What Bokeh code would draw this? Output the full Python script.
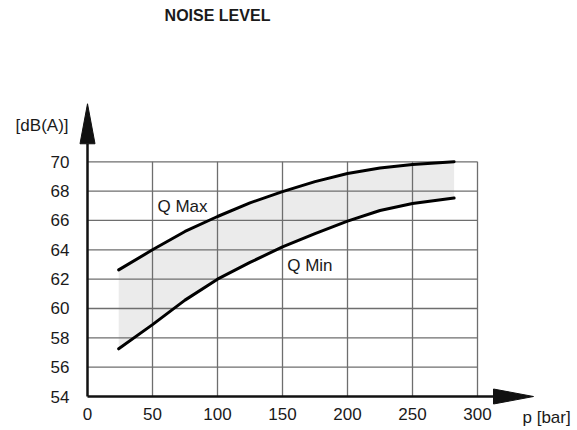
from bokeh.plotting import figure
from bokeh.models import LinearAxis, FixedTicker, Label, Range1d
from bokeh.core.properties import value
from bokeh.embed import file_html
from bokeh.resources import INLINE

# ---- data ----
pressure = [24, 50, 75, 100, 125, 150, 175, 200, 225, 250, 282]
q_max = [62.63, 64.0, 65.25, 66.27, 67.2, 67.97, 68.65, 69.2, 69.58, 69.82, 70.0]
q_min = [57.25, 58.9, 60.57, 62.0, 63.14, 64.2, 65.1, 65.95, 66.68, 67.16, 67.53]
x_ticks = [0, 50, 100, 150, 200, 250, 300]
y_ticks = [54, 56, 58, 60, 62, 64, 66, 68, 70]
title_text = "NOISE LEVEL"
y_label_text = "[dB(A)]"
x_label_text = "p [bar]"
series_labels = ["Q Max", "Q Min"]

# ---- layout ----
W, H = 577, 430
PX_X = 1.3      # px per bar
PX_Y = 14.67    # px per dB
X0_PX = 87      # canvas x of p=0
Y54_PX = 396    # canvas y (from top) of 54 dB
x_start = -X0_PX / PX_X
x_end = (W - X0_PX) / PX_X
y_start = y_ticks[0] - (H - Y54_PX) / PX_Y
y_end = y_ticks[0] + Y54_PX / PX_Y

FONT = "Liberation Sans"
TXT = "#1a1a1a"

p = figure(width=W, height=H, output_backend="svg", toolbar_location=None,
           x_axis_location=None, y_axis_location=None,
           x_range=Range1d(x_start, x_end), y_range=Range1d(y_start, y_end),
           min_border=0, min_border_left=0, min_border_right=0,
           min_border_top=0, min_border_bottom=0)
p.outline_line_color = None
p.background_fill_color = "white"
p.border_fill_color = "white"
p.grid.visible = False

xmin, xmax = x_ticks[0], x_ticks[-1]
ymin, ymax = y_ticks[0], y_ticks[-1]

# band between curves
p.varea(x=pressure, y1=q_min, y2=q_max, fill_color="#ebebeb")

# grid
gx = x_ticks[1:]
p.segment(x0=gx, y0=[ymin] * len(gx), x1=gx, y1=[ymax] * len(gx),
          line_color="#6e6e6e", line_width=1.3)
gy = y_ticks[1:]
p.segment(x0=[xmin] * len(gy), y0=gy, x1=[xmax] * len(gy), y1=gy,
          line_color="#6e6e6e", line_width=1.3)

# curves
p.line(pressure, q_max, line_color="black", line_width=3, line_cap="round")
p.line(pressure, q_min, line_color="black", line_width=3, line_cap="round")

# axis arrows (sizes in px converted to data units)
HEAD_LEN, HEAD_W = 40, 15
y_tip = ymax + 58 / PX_Y
y_base = y_tip - HEAD_LEN / PX_Y
x_tip = xmax + 56 / PX_X
x_base = x_tip - HEAD_LEN / PX_X
AX = "#111111"
p.segment(x0=[xmin, xmin], y0=[ymin, ymin], x1=[xmin, x_base], y1=[y_base, ymin],
          line_color=AX, line_width=2.5)
p.patch([xmin - HEAD_W / 2 / PX_X, xmin, xmin + HEAD_W / 2 / PX_X],
        [y_base, y_tip, y_base], fill_color=AX, line_color=AX, line_width=1)
p.patch([x_base, x_tip, x_base],
        [ymin - HEAD_W / 2 / PX_Y, ymin, ymin + HEAD_W / 2 / PX_Y],
        fill_color=AX, line_color=AX, line_width=1)

# axes (labels only, fixed at the arrow lines)
xaxis = LinearAxis(fixed_location=ymin, ticker=FixedTicker(ticks=x_ticks))
yaxis = LinearAxis(fixed_location=xmin, ticker=FixedTicker(ticks=y_ticks))
for ax, so in ((xaxis, 11), (yaxis, 18)):
    ax.axis_line_color = None
    ax.major_tick_line_color = None
    ax.minor_tick_line_color = None
    ax.major_tick_in = 0
    ax.major_tick_out = 0
    ax.major_label_standoff = so
    ax.major_label_text_font = FONT
    ax.major_label_text_font_size = "17px"
    ax.major_label_text_color = TXT
p.add_layout(xaxis, "below")
p.add_layout(yaxis, "left")

# texts
p.add_layout(Label(x=(xmin + xmax) / 3, y=ymin + (Y54_PX - 15) / PX_Y, text=title_text,
                   text_align="center", text_baseline="middle", text_font=FONT,
                   text_font_size="16px", text_font_style="bold", text_color=TXT))
p.add_layout(Label(x=xmin - 14.6, y=ymax + 36 / PX_Y, text=y_label_text,
                   text_align="right", text_baseline="middle", text_font=FONT,
                   text_font_size="17px", text_color=TXT))
p.add_layout(Label(x=xmax + 34.6, y=ymin - 21 / PX_Y, text=x_label_text,
                   text_align="left", text_baseline="middle", text_font=FONT,
                   text_font_size="17px", text_color=TXT))
p.text(x=[53.8, 153.6], y=[66.93, 62.9], text=series_labels,
       text_align="left", text_baseline="middle", text_font=value(FONT),
       text_font_size="17px", text_color=TXT)

open("out.html", "w").write(file_html(p, INLINE))
